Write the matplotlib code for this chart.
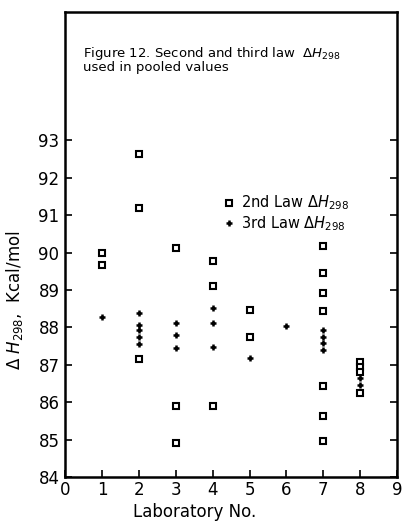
import numpy as np
import matplotlib.pyplot as plt

# values: laboratory number and Delta H298 (kcal/mol)
lab_2nd = [1, 1,
           2, 2, 2,
           3, 3, 3,
           4, 4, 4,
           5, 5,
           7, 7, 7, 7, 7, 7, 7,
           8, 8, 8, 8]
dh_2nd = [89.99, 89.67,
          92.64, 91.19, 87.16,
          90.12, 85.9, 84.9,
          89.78, 89.1, 85.9,
          88.47, 87.74,
          90.18, 89.46, 88.92, 88.44, 86.43, 85.63, 84.96,
          87.07, 86.94, 86.81, 86.25]

lab_3rd = [1,
           2, 2, 2, 2, 2,
           3, 3, 3,
           4, 4, 4,
           5,
           6,
           7, 7, 7, 7,
           8, 8]
dh_3rd = [88.28,
          88.38, 88.06, 87.93, 87.74, 87.56,
          88.12, 87.8, 87.45,
          88.53, 88.12, 87.48,
          87.18,
          88.04,
          87.93, 87.74, 87.58, 87.4,
          86.64, 86.46]

yticks = np.arange(84, 94)
xticks = np.arange(0, 10)

fig = plt.figure(figsize=(4.04, 5.26), dpi=100)
ax = fig.add_axes([0.161, 0.093, 0.822, 0.884])

ax.plot(lab_2nd, dh_2nd, 's', mfc='white', mec='black', ms=5, mew=1.5,
        linestyle='none', label=r'2nd Law $\Delta H_{298}$')
ax.plot(lab_3rd, dh_3rd, '+', color='black', ms=5, mew=1.8,
        linestyle='none', label=r'3rd Law $\Delta H_{298}$')

ax.set_xlim(0, 8.9)
ax.set_ylim(84, 96.43)
ax.set_yticks(yticks)
ax.set_xticks(xticks)
ax.tick_params(direction='in', length=5, width=1.2, labelsize=12,
               right=True, left=True)
ax.tick_params(axis='x', pad=3)
ax.tick_params(axis='y', pad=4)
for s in ax.spines.values():
    s.set_linewidth(1.8)

ax.set_xlabel('Laboratory No.', fontsize=12)
ax.xaxis.set_label_coords(0.39, -0.055)
ax.set_ylabel(r'$\Delta\ H_{298}$,  Kcal/mol', fontsize=12)
ax.yaxis.set_label_coords(-0.12, 0.38)

ax.text(0.054, 0.93, 'Figure 12. Second and third law  $\\Delta H_{298}$\nused in pooled values',
        transform=ax.transAxes, fontsize=9.5, va='top', ha='left', linespacing=0.95)

ax.legend(loc='upper left', bbox_to_anchor=(0.46, 0.625), frameon=False,
          fontsize=10.5, handlelength=0.6, handletextpad=0.5, labelspacing=0.1,
          borderpad=0)

fig.savefig('out.png', dpi=100)
